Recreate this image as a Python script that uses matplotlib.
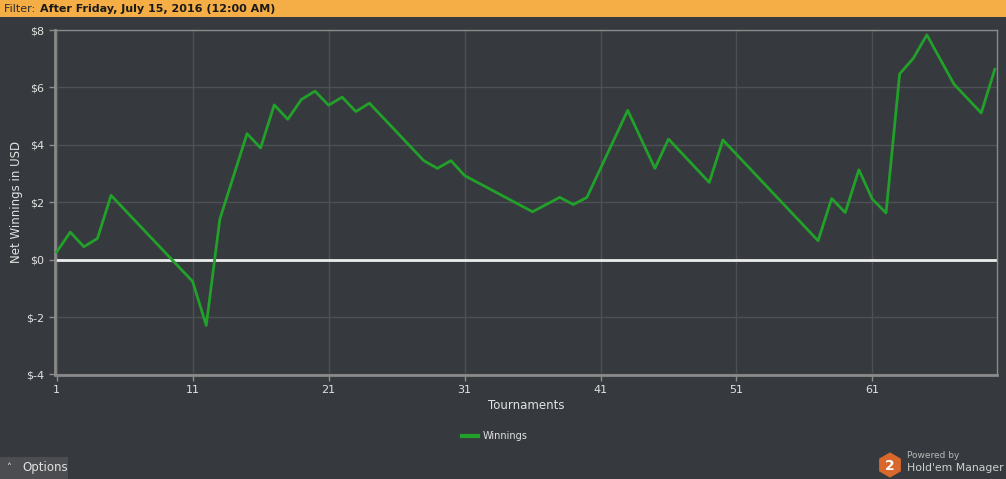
import matplotlib
matplotlib.use("Agg")
import matplotlib.pyplot as plt
from matplotlib.patches import Rectangle, RegularPolygon

# data (tournament number, net winnings in USD)
tournaments = [1, 2, 3, 4, 5, 11, 12, 13, 15, 16, 17, 18, 19, 20, 21, 22, 23, 24,
               28, 29, 30, 31, 36, 38, 39, 40, 43, 45, 46, 49, 50, 57, 58, 59,
               60, 61, 62, 63, 64, 65, 67, 69, 70]
winnings = [0.27, 0.96, 0.45, 0.74, 2.24, -0.76, -2.29, 1.41, 4.39, 3.89, 5.39,
            4.89, 5.58, 5.87, 5.38, 5.66, 5.16, 5.45, 3.45, 3.18, 3.45, 2.93,
            1.67, 2.17, 1.92, 2.17, 5.20, 3.18, 4.20, 2.69, 4.17, 0.66, 2.13,
            1.64, 3.13, 2.10, 1.63, 6.47, 7.01, 7.83, 6.11, 5.11, 6.63]
x_ticks = [1, 11, 21, 31, 41, 51, 61]
y_ticks = [-4, -2, 0, 2, 4, 6, 8]
y_labels = ["$-4", "$-2", "$0", "$2", "$4", "$6", "$8"]

BG = "#363a3e"
GRID = "#4d5054"
TXT = "#e2e2e2"
GREEN = "#21a02a"
W, H = 1006, 479

plt.rcParams['font.family'] = ['DejaVu Sans']

fig = plt.figure(figsize=(W / 100, H / 100), dpi=100, facecolor=BG)

# orange filter bar on top
fig.patches.append(Rectangle((0, 1 - 17 / H), 1, 17 / H, transform=fig.transFigure,
                             facecolor="#f5ae45", edgecolor="none", zorder=0))
fig.text(4 / W, 1 - 8.5 / H, "Filter: ", color="#2a2a2a", fontsize=8, va="center")
fig.text(40 / W, 1 - 8.5 / H, "After Friday, July 15, 2016 (12:00 AM)", color="#1a1a1a",
         fontsize=8, fontweight="bold", va="center")

ax = fig.add_axes([54.5 / W, 1 - 374.5 / H, (997 - 54.5) / W, (374.5 - 30) / H])
ax.set_facecolor(BG)
ax.plot(tournaments, winnings, color=GREEN, lw=2, label="Winnings", zorder=3)
ax.axhline(0, color="#ececec", lw=2, zorder=2)

ax.set_xlim(0.84, 70.16)
ax.set_ylim(-4, 8)
ax.set_xticks(x_ticks)
ax.set_yticks(y_ticks)
ax.set_yticklabels(y_labels)
ax.grid(True, color=GRID, lw=1)
ax.tick_params(colors="#8c8c8c", labelcolor=TXT, labelsize=8, length=4, width=1)
for side in ["top", "right"]:
    ax.spines[side].set_color("#8a8a8a")
    ax.spines[side].set_linewidth(1)
for side in ["left", "bottom"]:
    ax.spines[side].set_color("#8a8a8a")
    ax.spines[side].set_linewidth(2)

ax.set_xlabel("Tournaments", color=TXT, fontsize=8.5, labelpad=3)
ax.set_ylabel("Net Winnings in USD", color=TXT, fontsize=8.5, labelpad=2)

leg = ax.legend(loc="center", bbox_to_anchor=(495 / W, 1 - 436 / H),
                bbox_transform=fig.transFigure, frameon=False, fontsize=7,
                handlelength=1.6, handletextpad=0.5)
for t in leg.get_texts():
    t.set_color(TXT)
for l in leg.get_lines():
    l.set_linewidth(3)

# options button bottom-left
fig.patches.append(Rectangle((0, 0), 68 / W, 22 / H, transform=fig.transFigure,
                             facecolor="#4b4d51", edgecolor="none", zorder=0))
fig.text(6 / W, 11 / H, "\u02c4", color=TXT, fontsize=7, va="center")
fig.text(22 / W, 11 / H, "Options", color=TXT, fontsize=8.5, va="center")

# powered by logo
lax = fig.add_axes([878 / W, 1 / H, 24 / W, 26 / H])
lax.set_xlim(-1, 1)
lax.set_ylim(-1.08, 1.08)
lax.axis("off")
lax.add_patch(RegularPolygon((0, 0), 6, radius=1.05, facecolor="#d8682c", edgecolor="none"))
lax.text(0, -0.05, "2", color="white", fontsize=10, fontweight="bold", ha="center", va="center")
fig.text(907 / W, 1 - 456 / H, "Powered by", color="#b8b8b8", fontsize=6.5, va="center")
fig.text(907 / W, 1 - 468 / H, "Hold'em Manager", color="#cfcfcf", fontsize=7.8, va="center")

fig.savefig("out.png", dpi=100, facecolor=BG)
